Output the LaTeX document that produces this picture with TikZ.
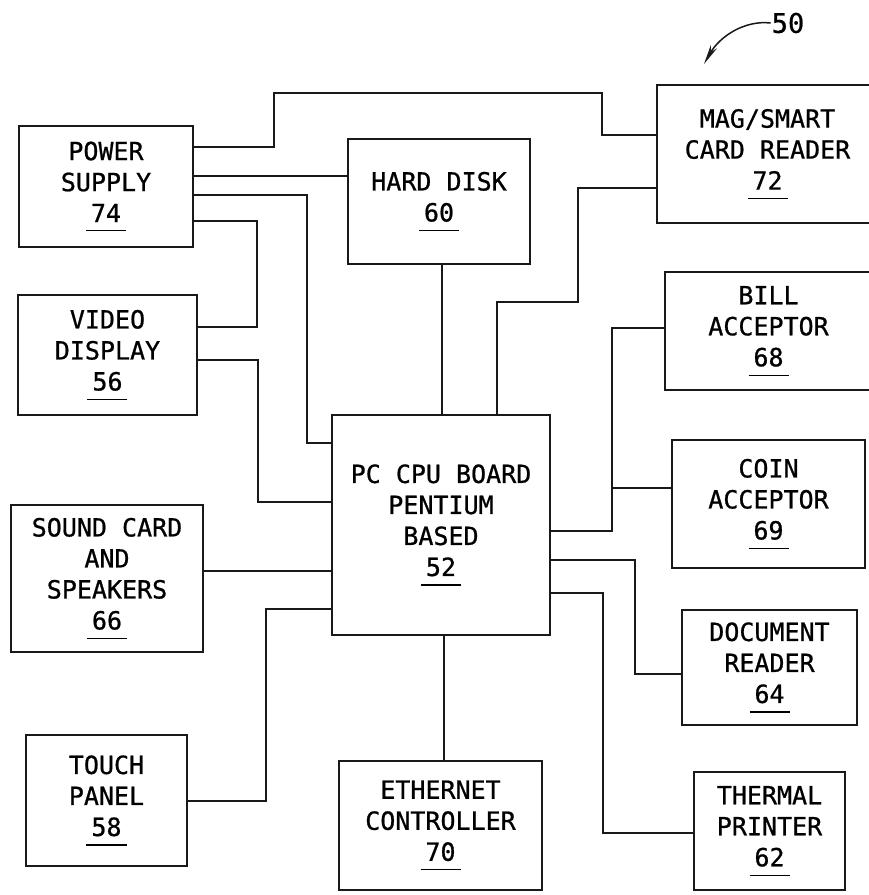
\documentclass[tikz,border=0pt]{standalone}
\usepackage{fontspec}
\newfontfamily\boxfont[FakeBold=0.8]{DejaVu Sans Mono}
\usetikzlibrary{arrows.meta}
\newcommand\ulnum[1]{\setbox0\hbox{#1}\vtop{\offinterlineskip\copy0\kern8pt\hbox to\wd0{\hss\rule{40pt}{1.3pt}\hss}}}
\begin{document}
\begin{tikzpicture}[x=1pt,y=-1pt,
  blk/.style={draw=black!90, line width=2.1pt, inner sep=0pt, outer sep=0pt,
    align=center, font=\boxfont\fontsize{25}{31}\selectfont, text=black},
  wire/.style={draw=black!90, line width=2.1pt}]
\useasboundingbox (0,0) rectangle (869,895);
\fill[white] (0,0) rectangle (869,895);
\clip (0,0) rectangle (869,895);

% boxes
\node[blk, minimum width=174pt, minimum height=121pt] (ps)   at (106,186.5) {POWER\\SUPPLY\\\ulnum{74}};
\node[blk, minimum width=182pt, minimum height=125pt] (hd)   at (439,201.5) {HARD DISK\\\ulnum{60}};
\node[blk, minimum width=221pt, minimum height=138pt] (mag)  at (767.5,154) {MAG/SMART\\CARD READER\\\ulnum{72}};
\node[blk, minimum width=179pt, minimum height=120pt] (vd)   at (107.5,355) {VIDEO\\DISPLAY\\\ulnum{56}};
\node[blk, minimum width=207pt, minimum height=118pt] (bill) at (768.5,331) {BILL\\ACCEPTOR\\\ulnum{68}};
\node[blk, minimum width=218pt, minimum height=220pt] (cpu)  at (441,525) {PC CPU BOARD\\PENTIUM\\BASED\\\ulnum{52}};
\node[blk, minimum width=193pt, minimum height=128pt] (coin) at (768.5,504) {COIN\\ACCEPTOR\\\ulnum{69}};
\node[blk, minimum width=192pt, minimum height=147pt] (snd)  at (107,578.5) {SOUND CARD\\AND\\SPEAKERS\\\ulnum{66}};
\node[blk, minimum width=175pt, minimum height=115pt] (doc)  at (769.5,667.5) {DOCUMENT\\READER\\\ulnum{64}};
\node[blk, minimum width=161pt, minimum height=131pt] (tp)   at (106.5,800.5) {TOUCH\\PANEL\\\ulnum{58}};
\node[blk, minimum width=203pt, minimum height=129pt] (eth)  at (440.5,825.5) {ETHERNET\\CONTROLLER\\\ulnum{70}};
\node[blk, minimum width=151pt, minimum height=118pt] (thp)  at (769.5,831) {THERMAL\\PRINTER\\\ulnum{62}};

% reference numeral
\node[font=\boxfont\fontsize{27}{30}\selectfont, text=black, inner sep=1pt] (lbl) at (788,23) {50};
\coordinate (tip) at (704,64);
\draw[wire, line width=1.5pt, -{Stealth[length=20pt,width=7pt]}]
  (lbl.west) .. controls (745,20) and (720,36) .. (tip);

% connectors
\draw[wire] (ps.east |- 0,147) -| (274,93) -| (602,135) -- (mag.west |- 0,135);
\draw[wire] (ps.east |- 0,176) -- (hd.west |- 0,176);
\draw[wire] (ps.east |- 0,195) -| (307,443) -- (cpu.west |- 0,443);
\draw[wire] (ps.east |- 0,221) -| (257,327) -- (vd.east |- 0,327);
\draw[wire] (vd.east |- 0,360) -| (258,502) -- (cpu.west |- 0,502);
\draw[wire] (hd.south -| 442,0) -- (cpu.north -| 442,0);
\draw[wire] (mag.west |- 0,188) -| (578,302) -| (cpu.north -| 497,0);
\draw[wire] (bill.west |- 0,328) -| (612,531) -- (cpu.east |- 0,531);
\coordinate (bus) at (612,488);
\draw[wire] (coin.west |- 0,488) -- (bus);
\draw[wire] (cpu.east |- 0,560) -| (635,674) -- (doc.west |- 0,674);
\draw[wire] (cpu.east |- 0,593) -| (603,833) -- (thp.west |- 0,833);
\draw[wire] (snd.east |- 0,571) -- (cpu.west |- 0,571);
\draw[wire] (cpu.west |- 0,609) -| (266,801) -- (tp.east |- 0,801);
\draw[wire] (cpu.south -| 444,0) -- (eth.north -| 444,0);
\end{tikzpicture}
\end{document}
